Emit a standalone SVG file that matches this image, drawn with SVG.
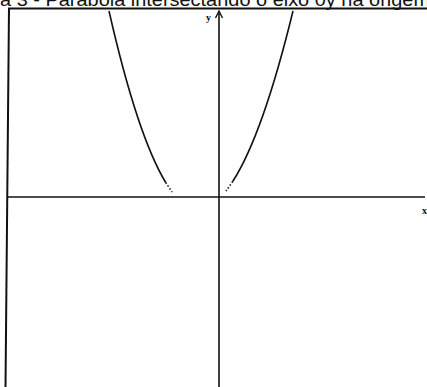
<svg xmlns="http://www.w3.org/2000/svg" width="427" height="387" viewBox="0 0 427 387">
<style>
.frame{stroke:#111;stroke-width:2;fill:none}
.axis{stroke:#111;stroke-width:1.6;fill:none}
.curve{stroke:#111;stroke-width:1.6;fill:none}
.dots{stroke:#111;stroke-width:1.6;fill:none;stroke-dasharray:1.5 2}
.title{font-family:"Liberation Sans",Arial,sans-serif;font-size:18px;fill:#111}
.lbl{font-family:"Liberation Serif","Times New Roman",serif;font-size:10px;font-weight:bold;fill:#111}
</style>
<defs>
<marker id="arr" markerWidth="10" markerHeight="10" refX="8" refY="5" orient="auto" markerUnits="userSpaceOnUse">
<path d="M1,1.5 L8,5 L1,8.5" fill="none" stroke="#111" stroke-width="1.4"/>
</marker>
</defs>
<rect width="427" height="387" fill="#fff"/>
<text class="title" x="0" y="5.5" textLength="430" lengthAdjust="spacingAndGlyphs">a 3 - Parábola intersectando o eixo 0y na origem</text>
<g id="frame">
<line class="frame" x1="8" y1="8.5" x2="427" y2="8.5"/>
<line class="frame" x1="9" y1="8" x2="5.5" y2="387"/>
</g>
<g id="connectors">
<line class="axis" x1="7" y1="197" x2="425" y2="197"/>
<line class="axis" x1="219" y1="387" x2="219" y2="11" marker-end="url(#arr)"/>
</g>
<g id="parabola">
<path class="curve" d="M109,11 Q137.35,135.56 165.7,182.5"/>
<path class="dots" d="M165.7,182.5 L172,192"/>
<path class="curve" d="M293,11 Q262.85,134.66 232.7,181.5"/>
<path class="dots" d="M232.7,181.5 L226,191"/>
</g>
<g id="labels">
<text class="lbl" x="206" y="21">y</text>
<text class="lbl" x="422" y="214">x</text>
</g>
</svg>
